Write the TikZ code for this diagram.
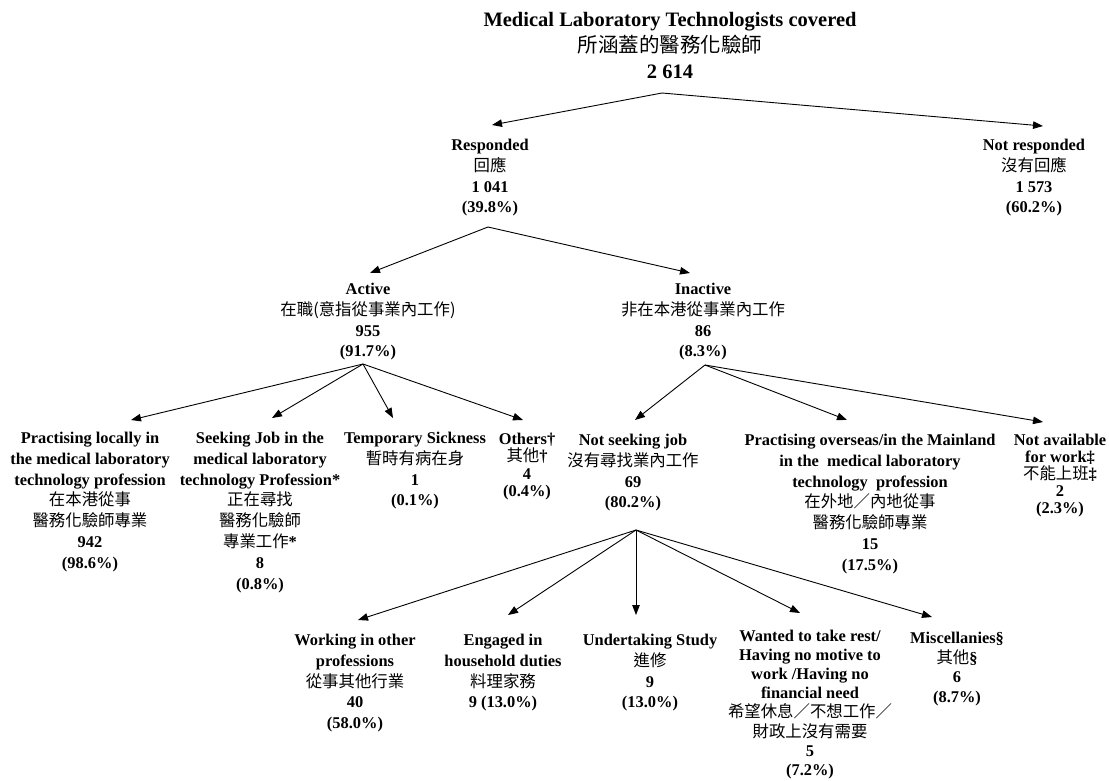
\documentclass[tikz,border=0pt]{standalone}
\usepackage{fontspec}
\setmainfont{Liberation Serif}
\newfontfamily\cjk{Noto Sans CJK TC}
\usetikzlibrary{arrows.meta}
\newcommand\zh[1]{{\mdseries\cjk #1}}
\newcommand\fs[2]{\fontsize{#1}{#2}\selectfont\bfseries\lineskiplimit=-30pt\lineskip=0pt\relax}
\tikzset{
  lbl/.style={align=center, inner sep=0pt, anchor=north, font={\fs{16.4}{20.8}}},
  ttl/.style={align=center, inner sep=0pt, anchor=north, font={\fs{20.5}{26}}},
  arr/.style={-{Triangle[length=10pt,width=7.5pt]}, line width=0.9pt}
}
\begin{document}
\begin{tikzpicture}[x=1pt,y=-1pt]
\useasboundingbox (0,0) rectangle (1109,780);
\fill[white] (0,0) rectangle (1109,780);

% nodes
\node[ttl] (top) at (670,12) {Medical Laboratory Technologists covered\\\zh{所涵蓋的醫務化驗師}\\2 614};

\node[lbl] (resp) at (490,139) {Responded\\\zh{回應}\\1 041\\(39.8\%)};
\node[lbl] (nresp) at (1034,139) {Not responded\\\zh{沒有回應}\\1 573\\(60.2\%)};

\node[lbl] (act) at (368,283) {Active\\\zh{在職(意指從事業內工作)}\\955\\(91.7\%)};
\node[lbl] (inact) at (703,283) {Inactive\\\zh{非在本港從事業內工作}\\86\\(8.3\%)};

\node[lbl] (pl) at (90,432) {Practising locally in\\the medical laboratory\\technology profession\\\zh{在本港從事}\\\zh{醫務化驗師專業}\\942\\(98.6\%)};
\node[lbl] (sj) at (260,432) {Seeking Job in the\\medical laboratory\\technology Profession*\\\zh{正在尋找}\\\zh{醫務化驗師}\\\zh{專業工作}*\\8\\(0.8\%)};
\node[lbl] (ts) at (415,432) {Temporary Sickness\\\zh{暫時有病在身}\\1\\(0.1\%)};
\node[lbl, font={\fs{16.4}{17.4}}] (oth) at (527,433) {Others†\\\zh{其他}†\\4\\(0.4\%)};
\node[lbl] (nsj) at (633,434) {Not seeking job\\\zh{沒有尋找業內工作}\\69\\(80.2\%)};
\node[lbl] (po) at (870,434) {Practising overseas/in the Mainland\\in the\ \ medical laboratory\\technology\ \ profession\\\zh{在外地／內地從事}\\\zh{醫務化驗師專業}\\15\\(17.5\%)};
\node[lbl, font={\fs{16.4}{17}}] (na) at (1060,434) {Not available\\for work‡\\\zh{不能上班}‡\\2\\(2.3\%)};

\node[lbl] (wo) at (355,634) {Working in other\\professions\\\zh{從事其他行業}\\40\\(58.0\%)};
\node[lbl] (eh) at (503,634) {Engaged in\\household duties\\\zh{料理家務}\\9 (13.0\%)};
\node[lbl] (us) at (650,634) {Undertaking Study\\\zh{進修}\\9\\(13.0\%)};
\node[lbl, font={\fs{16.4}{19.1}}] (wr) at (810,630) {Wanted to take rest/\\Having no motive to\\work /Having no\\financial need\\\zh{希望休息／不想工作／}\\\zh{財政上沒有需要}\\5\\(7.2\%)};
\node[lbl, font={\fs{16.4}{19.7}}] (mi) at (957,632) {Miscellanies§\\\zh{其他}§\\6\\(8.7\%)};

% branch points and arrow ends
\coordinate (a0) at (662,93);
\coordinate (tresp) at (492,125);
\coordinate (tnresp) at (1043,126);
\coordinate (a1) at (488,227);
\coordinate (tact) at (370,273);
\coordinate (tinact) at (690,273);
\coordinate (a2) at (363,364);
\coordinate (tpl) at (131,420);
\coordinate (tsj) at (272,418);
\coordinate (tts) at (393,418);
\coordinate (toth) at (523,420);
\coordinate (a3) at (705,365);
\coordinate (tnsj) at (635,420);
\coordinate (tpo) at (847,420);
\coordinate (tna) at (1043,422);
\coordinate (a4) at (636,530);
\coordinate (two) at (358,620);
\coordinate (teh) at (508,615);
\coordinate (tus) at (636,615);
\coordinate (twr) at (800,613);
\coordinate (tmi) at (932,617);

\draw[arr] (a0) -- (tresp);
\draw[arr] (a0) -- (tnresp);
\draw[arr] (a1) -- (tact);
\draw[arr] (a1) -- (tinact);
\draw[arr] (a2) -- (tpl);
\draw[arr] (a2) -- (tsj);
\draw[arr] (a2) -- (tts);
\draw[arr] (a2) -- (toth);
\draw[arr] (a3) -- (tnsj);
\draw[arr] (a3) -- (tpo);
\draw[arr] (a3) -- (tna);
\draw[arr] (a4) -- (two);
\draw[arr] (a4) -- (teh);
\draw[arr] (a4) -- (tus);
\draw[arr] (a4) -- (twr);
\draw[arr] (a4) -- (tmi);
\end{tikzpicture}
\end{document}
